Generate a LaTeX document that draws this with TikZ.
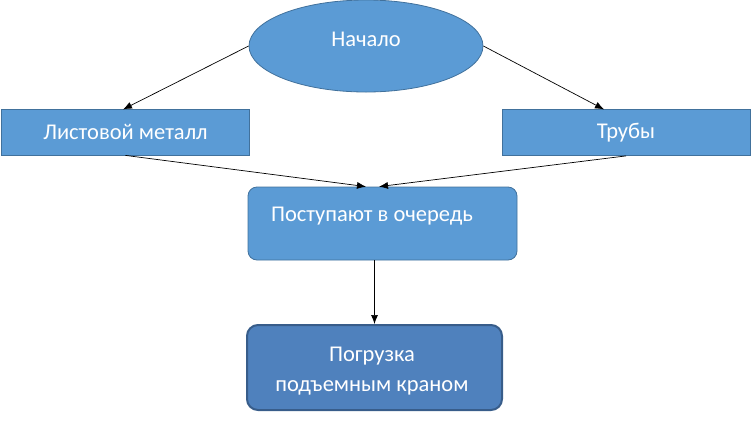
\documentclass[tikz,border=0pt]{standalone}
\usepackage{fontspec}
\setmainfont{Carlito}
\usetikzlibrary{shapes.geometric,arrows.meta}
\definecolor{boxfill}{HTML}{5B9BD5}
\definecolor{boxline}{HTML}{41719C}
\definecolor{darkfill}{HTML}{4F81BD}
\definecolor{darkline}{HTML}{385D8A}
\tikzset{
  base/.style={fill=boxfill, draw=boxline, line width=0.8pt, text=white, font=\fontsize{22.5}{30}\selectfont, inner sep=0pt},
  label/.style={base, fill=none, draw=none, align=center},
  startnode/.style={base, ellipse, minimum width=234pt, minimum height=92pt},
  plainbox/.style={base, rectangle, minimum width=248pt, minimum height=46pt},
  roundbox/.style={base, rectangle, rounded corners=9pt, minimum width=269pt, minimum height=73pt},
  finalbox/.style={base, fill=darkfill, draw=darkline, line width=2pt, rectangle, rounded corners=11pt, minimum width=255pt, minimum height=85pt},
  conn/.style={-{Latex[length=9pt,width=7pt]}, line width=0.7pt, black},
}
\begin{document}
\begin{tikzpicture}[x=1pt,y=-1pt]
\useasboundingbox (0,0) rectangle (752,421);
\node[startnode] (start) at (366,46) {};
\node[label] (starttext) at (366,39) {Начало};
\node[plainbox] (sheet) at (125.5,132) {Листовой металл};
\node[plainbox] (pipes) at (626,132.5) {Трубы};
\node[roundbox] (queue) at (382.5,223.5) {};
\node[label] (queuetext) at (372,216) {Поступают в очередь};
\node[finalbox] (load) at (374.5,367.5) {};
\node[label] (loadtext) at (372,371) {Погрузка\\подъемным краном};
\coordinate (qout) at (load.north |- queue.south);
\draw[conn] (start.west) -- (123,109.4);
\draw[conn] (start.east) -- (604,109.4);
\draw[conn] (sheet.south) -- (366,186.6);
\draw[conn] (pipes.south) -- (379,186.6);
\draw[conn] (qout) -- (load.north);
\end{tikzpicture}
\end{document}
